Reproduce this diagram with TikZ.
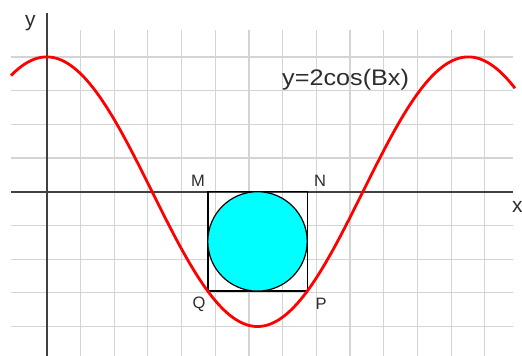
\documentclass[tikz,border=0pt]{standalone}
\usepackage{fontspec}
\setmainfont{Liberation Sans}
\definecolor{aqua}{RGB}{0,255,255}
\definecolor{txt}{RGB}{45,45,45}
\begin{document}
\begin{tikzpicture}[x=1pt,y=-1pt,
  gridline/.style={draw=black!17,line width=1.2pt},
  axisline/.style={draw=black!75,line width=1.8pt},
  curve/.style={draw=red,line width=2.8pt},
  lbl/.style={text=txt,inner sep=0pt,font=\fontsize{16.5}{16.5}\selectfont},
  axlbl/.style={text=txt,inner sep=0pt,font=\fontsize{21}{21}\selectfont}]
\useasboundingbox (0,0) rectangle (522,356);
% grid
\foreach \k in {1,...,13} \draw[gridline] ({46.7+33.7*\k},30) -- ({46.7+33.7*\k},356);
\foreach \k in {-4,...,4} \draw[gridline] (11,{191.7+33.7*\k}) -- (513,{191.7+33.7*\k});
% axes
\coordinate (xl) at (11,191.7);
\coordinate (xr) at (513,191.7);
\coordinate (yt) at (46.7,13);
\coordinate (yb) at (46.7,356);
\draw[axisline] (xl) -- (xr);
\draw[axisline] (yt) -- (yb);
\node[axlbl,anchor=base west] (ylab) at (25,26) {y};
\node[axlbl,anchor=base west] (xlab) at (512,212) {x};
% square and circle
\node[draw=black,line width=1.4pt,minimum width=99.4pt,minimum height=99.4pt,inner sep=0pt] (sq) at (257.5,241.4) {};
\node[circle,draw=black,line width=1.2pt,fill=aqua,minimum size=99.4pt,inner sep=0pt] (circ) at (257.5,241.4) {};
% curve
\draw[curve,domain=11:515,samples=200] plot (\x,{191.7-134.8*cos(0.85389*(\x-46.7))});
% labels
\node[lbl] (M) at (198,181) {M};
\node[lbl] (N) at (320,181) {N};
\node[lbl] (Q) at (199,304) {Q};
\node[lbl] (P) at (321,304) {P};
\node[text=txt,inner sep=0pt,anchor=base west,xscale=1.12,font=\fontsize{22.5}{22.5}\selectfont] (eq) at (282,85) {y=2cos(Bx)};
\end{tikzpicture}
\end{document}
